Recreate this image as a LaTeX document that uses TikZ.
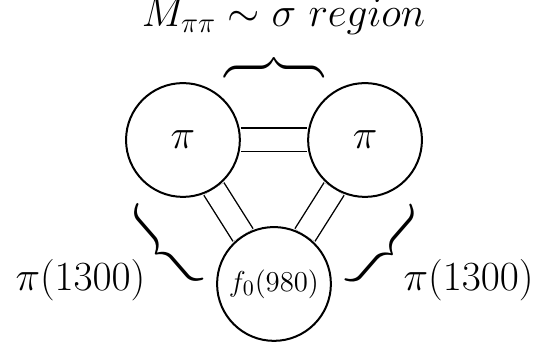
\documentclass[tikz,border=0pt]{standalone}
\usepackage{tikz}
\usetikzlibrary{backgrounds}

\tikzset{
  ball/.style={circle, draw, fill=white, line width=1pt, minimum size=2cm, inner sep=0pt},
  link/.style={double, double distance=0.39cm, line width=0.7pt},
  curly/.style={inner sep=0pt, scale=2.1},
  lbl/.style={inner sep=0pt, font=\fontsize{21.5}{25}\selectfont}
}

\begin{document}
\begin{tikzpicture}
  \useasboundingbox (-4.815,-3.638) rectangle (4.657,2.46);

  % the three mesons
  \node[ball, font=\fontsize{20}{24}\selectfont] (piL) at (-1.6,0) {$\pi$};
  \node[ball, font=\fontsize{20}{24}\selectfont] (piR) at (1.6,0) {$\pi$};
  \node[ball, font=\fontsize{15}{18}\selectfont] (f0) at (0,-2.53) {$f_0(980)$};

  % double lines between them
  \begin{scope}[on background layer]
    \foreach \a/\b in {piL/piR, piL/f0, piR/f0}
      \draw[link] (\a) -- (\b);
  \end{scope}

  % braces
  \node[curly, rotate=90] (bTop) at (0,1.27) {$\bigg\}$};
  \node[curly, rotate=41] (bLeft) at (-1.95,-1.90) {$\bigg\{$};
  \node[curly, rotate=-41] (bRight) at (1.95,-1.90) {$\bigg\}$};

  % labels
  \node[lbl, anchor=base, font=\fontsize{20.5}{24}\selectfont] (title) at (0.17,1.99)
    {$M_{\pi\pi} \sim \sigma\ region$};
  \node[lbl] (lblLeft) at (-3.40,-2.46) {$\pi(1300)$};
  \node[lbl] (lblRight) at (3.42,-2.46) {$\pi(1300)$};
\end{tikzpicture}
\end{document}
